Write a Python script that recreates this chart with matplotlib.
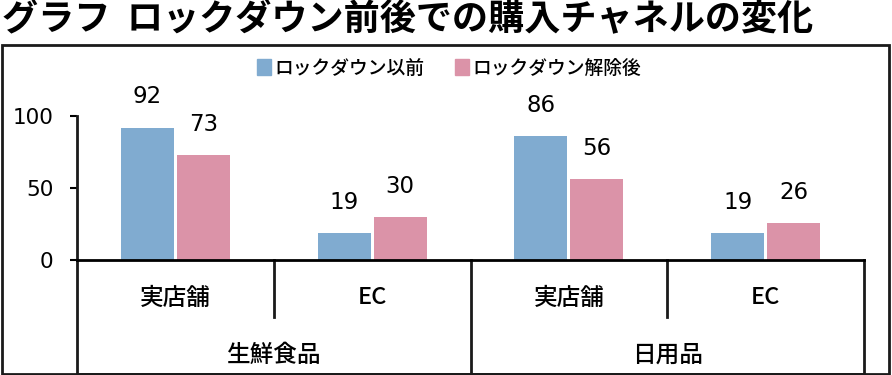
import matplotlib
matplotlib.use("Agg")
import matplotlib.pyplot as plt
from matplotlib.patches import Rectangle, Patch
import numpy as np

# データ
channels = ["実店舗", "EC", "実店舗", "EC"]
groups = ["生鮮食品", "日用品"]
series_names = ["ロックダウン以前", "ロックダウン解除後"]
before = [92, 19, 86, 19]
after = [73, 30, 56, 26]
yticks = [0, 50, 100]

title = "グラフ  ロックダウン前後での購入チャネルの変化"
colors = ["#80abd0", "#db93a8"]

plt.rcParams['font.family'] = ['Noto Sans CJK JP', 'DejaVu Sans']

W, H = 892, 375
fig = plt.figure(figsize=(W / 100, H / 100), dpi=100)

def px(x, y):
    return x / W, 1 - y / H

# 外枠
fig.patches.append(Rectangle(px(2, 374), 887 / W, 329 / H, transform=fig.transFigure,
                             fill=False, edgecolor="#1a1a1a", linewidth=2))

fig.text(*px(2, 20), title, fontsize=26, fontweight="bold", va="center", ha="left")

# 軸
left, right = 77, 864
zero_y, top_y = 260, 116
ax = fig.add_axes([left / W, 1 - zero_y / H, (right - left) / W, (zero_y - top_y) / H])

x = np.arange(len(channels))
bw = 0.27
off = 0.142
ax.bar(x - off, before, bw, color=colors[0], label=series_names[0])
ax.bar(x + off, after, bw, color=colors[1], label=series_names[1])

for xi, v in zip(x - off, before):
    ax.annotate(str(v), (xi, v), xytext=(0, 22), textcoords="offset points",
                ha="center", va="center", fontsize=16.5, family="DejaVu Sans")
for xi, v in zip(x + off, after):
    ax.annotate(str(v), (xi, v), xytext=(0, 22), textcoords="offset points",
                ha="center", va="center", fontsize=16.5, family="DejaVu Sans")

ax.set_xlim(-0.5, len(channels) - 0.5)
ax.set_ylim(0, 100)
ax.set_yticks(yticks)
ax.set_yticklabels([str(t) for t in yticks], fontsize=15.5, family="DejaVu Sans")
ax.tick_params(axis="y", length=5, width=1.5, pad=12)
ax.set_xticks([])
for s in ["top", "right", "left"]:
    ax.spines[s].set_visible(False)
ax.spines["bottom"].set_linewidth(2)

# カテゴリ枠線
tr = ax.get_xaxis_transform()
lw = 2
bottom = -(374 - zero_y) / (zero_y - top_y)
mid = -(317 - zero_y) / (zero_y - top_y)
ax.plot([-0.5, -0.5], [1, bottom], color="#1a1a1a", lw=lw, transform=tr, clip_on=False)
ax.plot([3.5, 3.5], [0, bottom], color="#1a1a1a", lw=lw, transform=tr, clip_on=False)
ax.plot([1.5, 1.5], [0, bottom], color="#1a1a1a", lw=lw, transform=tr, clip_on=False)
ax.plot([0.5, 0.5], [0, mid], color="#1a1a1a", lw=lw, transform=tr, clip_on=False)
ax.plot([2.5, 2.5], [0, mid], color="#1a1a1a", lw=lw, transform=tr, clip_on=False)
ax.plot([-0.5, 3.5], [bottom, bottom], color="#1a1a1a", lw=lw, transform=tr, clip_on=False)

cat_y = -(298 - zero_y) / (zero_y - top_y)
grp_y = -(355 - zero_y) / (zero_y - top_y)
for xi, c in zip(x, channels):
    ax.text(xi, cat_y, c, transform=tr, ha="center", va="center", fontsize=17,
            fontweight="medium")
for i, g in enumerate(groups):
    ax.text(2 * i + 0.5, grp_y, g, transform=tr, ha="center", va="center", fontsize=17,
            fontweight="medium")

# 凡例
handles = [Patch(color=colors[0]), Patch(color=colors[1])]
fig.legend(handles, series_names, loc="center", bbox_to_anchor=px(449, 68), ncol=2,
           frameon=False, prop={"size": 13.5, "weight": "medium"},
           handlelength=0.75, handleheight=0.9, handletextpad=0.2, columnspacing=1.6)

fig.savefig("out.png", dpi=100)
